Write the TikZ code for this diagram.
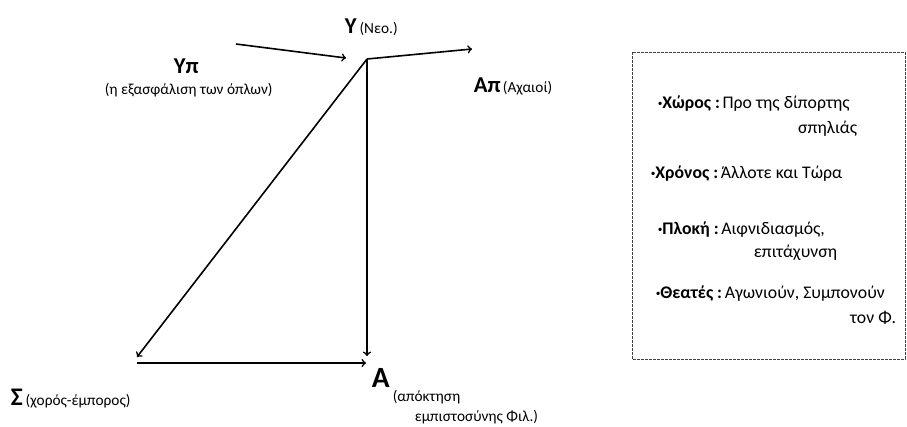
\documentclass[tikz,border=0pt]{standalone}
\usepackage{fontspec}
\setmainfont{Carlito}
\usetikzlibrary{arrows}

\newcommand{\actbig}[1]{{\fontsize{17}{20}\selectfont\bfseries #1}}
\newcommand{\actsml}[1]{{\fontsize{11.5}{13}\selectfont #1}}
\newcommand{\boxkey}[1]{\raisebox{0.2ex}{\scriptsize•}\textbf{#1 :}\hspace{2pt}}

\begin{document}
\begin{tikzpicture}[x=0.75pt,y=-0.75pt,>=to,line width=1.2pt,
    lbl/.style={inner sep=0pt,anchor=base west},
    boxtxt/.style={inner sep=0pt,anchor=base west,font=\fontsize{13.3}{15}\selectfont}]
      \useasboundingbox (0,0) rectangle (907,426);
      \node (Y) [lbl] at (344,33) {\actbig{Υ}\ \actsml{(Νεο.)}};
      \node (Yp) [lbl] at (173,73) {\actbig{Υπ}};
      \node (YpT) [lbl] at (104,94) {\actsml{(η εξασφάλιση των όπλων)}};
      \node (Ap) [lbl] at (473,92) {\actbig{Απ}\,\actsml{(Αχαιοί)}};
      \node (A) [lbl] at (371,387) {{\fontsize{22}{26}\selectfont\bfseries Α}};
      \node (AT1) [lbl] at (392,401) {\actsml{(απόκτηση}};
      \node (AT2) [lbl] at (414,421) {\actsml{εμπιστοσύνης Φιλ.)}};
      \node (S) [lbl] at (10,405) {{\fontsize{19}{22}\selectfont\bfseries Σ}\ \actsml{(χορός-έμπορος)}};
%%
      \coordinate (J) at (367,59);
      \coordinate (In) at (236,44);
      \coordinate (InEnd) at (346,58);
      \coordinate (Out) at (472,49);
      \coordinate (Adown) at (367,356);
      \coordinate (Sdiag) at (137,357);
      \coordinate (Sleft) at (137,363);
      \coordinate (Aleft) at (366,363);
      \draw [->] (In) -- (InEnd);
      \draw [->] (J) -- (Out);
      \draw [->] (J) -- (Adown);
      \draw [->] (J) -- (Sdiag);
      \draw [->] (Sleft) -- (Aleft);
%%
      \draw [dash pattern=on 2pt off 1pt,line width=0.6pt,color=black!75] (632,52) rectangle (905,359);
      \node (B1) [boxtxt] at (657,108) {\boxkey{Χώρος}Προ της δίπορτης};
      \node (B1b) [boxtxt,anchor=base east] at (858,133) {σπηλιάς};
      \node (B2) [boxtxt] at (650,178) {\boxkey{Χρόνος}Άλλοτε και Τώρα};
      \node (B3) [boxtxt] at (657,234) {\boxkey{Πλοκή}Αιφνιδιασμός,};
      \node (B3b) [boxtxt,anchor=base east] at (838,257) {επιτάχυνση};
      \node (B4) [boxtxt] at (655,298) {\boxkey{Θεατές}Αγωνιούν, Συμπονούν};
      \node (B4b) [boxtxt,anchor=base east] at (897,323) {τον Φ.};
    \end{tikzpicture}
\end{document}
